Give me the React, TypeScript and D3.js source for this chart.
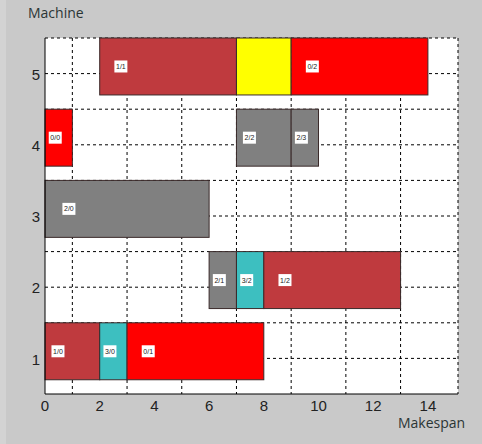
import * as d3 from "d3";

// operations: machine, start, end, job, label ("job/op")
const machines = [1, 1, 1, 2, 2, 2, 3, 4, 4, 4, 5, 5, 5];
const starts = [0, 2, 3, 6, 7, 8, 0, 0, 7, 9, 2, 7, 9];
const ends = [2, 3, 8, 7, 8, 13, 6, 1, 9, 10, 7, 9, 14];
const jobs = [1, 3, 0, 2, 3, 1, 2, 0, 2, 2, 1, 4, 0];
const opLabels = ["1/0", "3/0", "0/1", "2/1", "3/2", "1/2", "2/0", "0/0", "2/2", "2/3", "1/1", "", "0/2"];

const jobColors = ["#ff0000", "#bf3a3e", "#808080", "#3dbfc0", "#ffff00"];

const xTicks = [0, 2, 4, 6, 8, 10, 12, 14];
const yTicks = [1, 2, 3, 4, 5];
const xGrid = [1, 3, 5, 7, 9, 11, 13];
const yGrid = [1, 1.5, 2, 2.5, 3, 3.5, 4, 4.5, 5];

const W = 482;
const H = 444;
const plot = { left: 45, right: 458, top: 38, bottom: 394 };

export default function App() {
  const x = d3.scaleLinear().domain([0, 15.1]).range([plot.left, plot.right]);
  const y = d3.scaleLinear().domain([0.5, 5.5]).range([plot.bottom, plot.top]);
  const dash = "3,3";
  const font = "'Liberation Sans', Arial, sans-serif";
  const tickFont = "'Liberation Sans Narrow', 'Liberation Sans', Arial, sans-serif";
  const titleFont = "'Open Sans', 'Liberation Sans', sans-serif";

  return (
    <svg
      width={W}
      height={H}
      style={{ position: "absolute", left: 0, top: 0, display: "block" }}
    >
      <rect width={W} height={H} fill="#c9c9c9" />
      <rect width={6} height={H} fill="#d3d3d3" />
      <rect
        x={plot.left}
        y={plot.top}
        width={plot.right - plot.left}
        height={plot.bottom - plot.top}
        fill="#ffffff"
      />

      {/* grid */}
      {xGrid.map((v) => (
        <line
          key={"gx" + v}
          x1={x(v)}
          x2={x(v)}
          y1={plot.top}
          y2={plot.bottom}
          stroke="#000"
          strokeDasharray={dash}
        />
      ))}
      {yGrid.map((v) => (
        <line
          key={"gy" + v}
          x1={plot.left}
          x2={plot.right}
          y1={y(v)}
          y2={y(v)}
          stroke="#000"
          strokeDasharray={dash}
        />
      ))}
      {/* top and right border dashed */}
      <line x1={plot.left} x2={plot.right} y1={plot.top} y2={plot.top} stroke="#000" strokeDasharray={dash} />
      <line x1={plot.right} x2={plot.right} y1={plot.top} y2={plot.bottom} stroke="#000" strokeDasharray={dash} />

      {/* bars */}
      {machines.map((m, i) => (
        <rect
          key={"b" + i}
          x={x(starts[i])}
          y={y(m + 0.5)}
          width={x(ends[i]) - x(starts[i])}
          height={y(m - 0.3) - y(m + 0.5)}
          fill={jobColors[jobs[i]]}
          stroke="#3a2a2a"
          strokeWidth={1}
        />
      ))}

      {/* operation labels */}
      {machines.map((m, i) => {
        if (!opLabels[i]) return null;
        const lx = x(starts[i] + (ends[i] - starts[i]) / 10) + 1;
        const cy = y(m + 0.1);
        return (
          <g key={"l" + i} transform={`translate(${lx},${cy})`}>
            <rect x={0} y={-6} width={13} height={12} fill="#ffffff" />
            <text
              x={6.5}
              y={0}
              dy="0.35em"
              textAnchor="middle"
              fontSize={7}
              fontFamily={font}
              fill="#222"
            >
              {opLabels[i]}
            </text>
          </g>
        );
      })}

      {/* axes */}
      <line x1={plot.left} x2={plot.left} y1={plot.top} y2={plot.bottom} stroke="#000" />
      <line x1={plot.left} x2={plot.right} y1={plot.bottom} y2={plot.bottom} stroke="#000" />

      {xTicks.map((v) => (
        <text
          key={"xt" + v}
          x={x(v)}
          y={plot.bottom + 17}
          textAnchor="middle"
          fontSize={15}
          fontFamily={tickFont}
          fill="#222"
        >
          {v}
        </text>
      ))}
      {yTicks.map((v) => (
        <text
          key={"yt" + v}
          x={plot.left - 5}
          y={y(v) + 1}
          dy="0.35em"
          textAnchor="end"
          fontSize={15}
          fontFamily={tickFont}
          fill="#222"
        >
          {v}
        </text>
      ))}

      <text x={28} y={18} fontSize={14} fontFamily={titleFont} fill="#2b3535">
        Machine
      </text>
      <text x={398} y={428} fontSize={14} fontFamily={titleFont} fill="#2b3535">
        Makespan
      </text>
    </svg>
  );
}
